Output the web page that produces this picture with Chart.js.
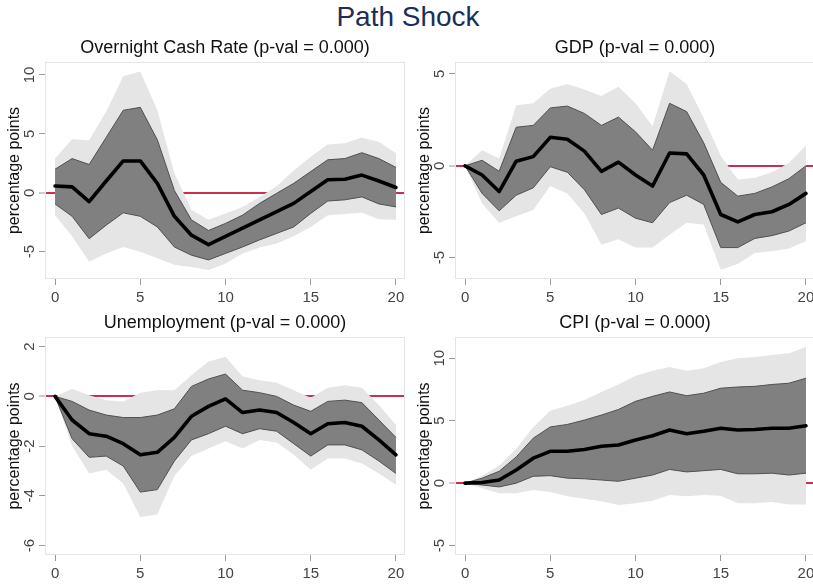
<!DOCTYPE html>
<html>
<head>
<meta charset="utf-8">
<title>Path Shock</title>
<script src="https://cdn.jsdelivr.net/npm/chart.js@4.4.1/dist/chart.umd.min.js"></script>
<style>
  html, body { margin: 0; padding: 0; background: #fff; overflow: hidden; width: 813px; height: 585px; }
  #main-title {
    position: absolute; left: 0; top: 0; width: 816px; text-align: center;
    font: 28px "Liberation Sans", Arial, sans-serif; color: #1c2d5c; line-height: 34px;
  }
  .panel { position: absolute; width: 410px; height: 280px; }
</style>
</head>
<body>
<div id="main-title">Path Shock</div>
<div class="panel" style="left:0px;top:30px"><canvas id="cash"></canvas></div>
<div class="panel" style="left:410px;top:30px"><canvas id="gdp"></canvas></div>
<div class="panel" style="left:0px;top:305px"><canvas id="unemp"></canvas></div>
<div class="panel" style="left:410px;top:305px"><canvas id="cpi"></canvas></div>
<script>
// Horizons (quarters after the shock) and axis ticks
const HORIZONS = [0, 1, 2, 3, 4, 5, 6, 7, 8, 9, 10, 11, 12, 13, 14, 15, 16, 17, 18, 19, 20];
const X_TICKS = [0, 5, 10, 15, 20];

// Overnight Cash Rate: point estimate, inner band, outer band
const cashMid  = [0.57, 0.5, -0.75, 1.0, 2.7, 2.7, 0.8, -2.0, -3.6, -4.4, -3.7, -3.0, -2.3, -1.6, -0.9, 0.1, 1.1, 1.15, 1.5, 1.0, 0.45];
const cashHi68 = [2.0, 2.9, 2.4, 4.7, 7.0, 7.25, 4.5, 0.2, -2.3, -3.2, -2.6, -1.9, -0.9, -0.05, 0.8, 1.8, 2.8, 2.9, 3.4, 2.9, 2.15];
const cashLo68 = [-0.95, -2.0, -3.9, -2.75, -1.7, -2.0, -2.9, -4.6, -5.3, -5.7, -5.15, -4.6, -4.0, -3.45, -2.9, -1.75, -0.7, -0.6, -0.35, -0.95, -1.2];
const cashHi90 = [2.9, 4.55, 4.45, 6.9, 9.9, 10.3, 7.0, 1.65, -1.45, -2.3, -1.75, -1.2, -0.35, 0.55, 1.9, 3.05, 4.1, 4.2, 4.7, 4.3, 3.35];
const cashLo90 = [-1.9, -3.7, -5.85, -5.15, -4.6, -5.0, -5.55, -6.1, -6.3, -6.55, -6.0, -5.15, -4.65, -4.3, -3.7, -2.9, -1.9, -1.8, -1.7, -2.25, -2.3];
const cashTicks = [-5, 0, 5, 10];

// GDP
const gdpMid  = [0, -0.5, -1.4, 0.25, 0.5, 1.55, 1.45, 0.8, -0.3, 0.2, -0.5, -1.1, 0.7, 0.65, -0.5, -2.65, -3.05, -2.65, -2.5, -2.1, -1.5];
const gdpHi68 = [0, 0.3, -0.3, 2.1, 2.2, 3.15, 3.25, 2.85, 2.2, 2.65, 1.85, 0.85, 3.4, 2.95, 1.25, -0.9, -1.65, -1.5, -1.15, -0.7, 0];
const gdpLo68 = [0, -1.5, -2.45, -1.6, -1.2, -0.05, -0.35, -1.3, -2.65, -2.3, -2.85, -3.1, -2.0, -1.6, -2.1, -4.45, -4.45, -3.95, -3.8, -3.55, -3.1];
const gdpHi90 = [0, 0.85, 0.4, 3.3, 3.4, 4.2, 4.45, 4.15, 3.8, 4.3, 3.4, 2.15, 5.15, 4.45, 2.6, 0.55, -0.75, -0.65, -0.35, 0.15, 1.1];
const gdpLo90 = [0, -2.05, -3.1, -2.75, -2.4, -1.1, -1.5, -2.6, -4.3, -4.0, -4.45, -4.45, -3.75, -3.1, -3.2, -5.65, -5.35, -4.75, -4.65, -4.5, -4.1];
const gdpTicks = [-5, 0, 5];

// Unemployment
const unempMid  = [0, -0.95, -1.5, -1.6, -1.9, -2.35, -2.25, -1.65, -0.8, -0.4, -0.1, -0.65, -0.55, -0.65, -1.05, -1.5, -1.1, -1.05, -1.2, -1.75, -2.35];
const unempHi68 = [0, -0.2, -0.55, -0.75, -0.85, -0.85, -0.75, -0.5, 0.4, 0.7, 0.9, 0.25, 0.15, 0, -0.35, -0.6, -0.2, -0.15, -0.25, -0.95, -1.65];
const unempLo68 = [0, -1.7, -2.45, -2.4, -2.8, -3.85, -3.75, -2.6, -1.75, -1.5, -1.2, -1.5, -1.3, -1.4, -1.9, -2.4, -1.95, -1.95, -2.15, -2.6, -3.1];
const unempHi90 = [0, 0.3, 0.05, -0.15, -0.2, 0.15, 0.25, 0.25, 0.85, 1.4, 1.6, 0.8, 0.65, 0.55, 0.25, -0.05, 0.35, 0.45, 0.35, -0.35, -1.15];
const unempLo90 = [0, -2.0, -3.1, -2.95, -3.5, -4.85, -4.75, -3.2, -2.4, -2.1, -1.8, -2.1, -1.75, -1.85, -2.35, -2.95, -2.5, -2.5, -2.7, -3.1, -3.55];
const unempTicks = [-6, -4, -2, 0, 2];

// CPI
const cpiMid  = [0, 0.05, 0.25, 1.05, 2.0, 2.55, 2.55, 2.7, 2.95, 3.05, 3.45, 3.8, 4.25, 3.95, 4.15, 4.4, 4.25, 4.3, 4.4, 4.4, 4.6];
const cpiHi68 = [0, 0.4, 0.95, 2.1, 3.6, 4.5, 4.7, 5.05, 5.45, 5.9, 6.55, 6.95, 7.3, 7.0, 7.2, 7.6, 7.7, 7.75, 7.9, 8.0, 8.4];
const cpiLo68 = [0, -0.15, -0.3, 0, 0.55, 0.6, 0.4, 0.35, 0.25, 0.15, 0.4, 0.65, 1.1, 0.9, 1.0, 1.1, 0.75, 0.75, 0.8, 0.65, 0.8];
const cpiHi90 = [0, 0.6, 1.4, 2.75, 4.5, 5.8, 6.2, 6.65, 7.3, 7.9, 8.6, 9.0, 9.3, 9.0, 9.2, 9.7, 10.0, 10.1, 10.25, 10.4, 10.9];
const cpiLo90 = [0, -0.4, -0.8, -0.8, -0.55, -0.7, -1.05, -1.25, -1.45, -1.75, -1.6, -1.4, -0.95, -1.05, -0.95, -1.0, -1.6, -1.6, -1.5, -1.7, -1.7];
const cpiTicks = [-5, 0, 5, 10];

const FONT = '"Liberation Sans", Arial, Helvetica, sans-serif';
const ZERO_RED = '#c8304f';

// Light frame around each plot region
const framePlugin = {
  id: 'plotFrame',
  beforeDatasetsDraw(chart) {
    const { ctx, chartArea: a } = chart;
    ctx.save();
    ctx.strokeStyle = '#e4e4e4';
    ctx.lineWidth = 1;
    ctx.strokeRect(Math.round(a.left) + 0.5, Math.round(a.top) + 0.5, Math.round(a.width) - 1, Math.round(a.height) - 1);
    ctx.restore();
  }
};

function makePanel(id, name, mid, hi68, lo68, hi90, lo90, yTicks, yMin, yMax, yTickPad, bottomH) {
  const band = (data, extra) => Object.assign({
    data, pointRadius: 0, pointHoverRadius: 0, tension: 0, borderWidth: 0
  }, extra);
  new Chart(document.getElementById(id), {
    type: 'line',
    data: {
      labels: HORIZONS,
      datasets: [
        band(hi90, { fill: '+1', backgroundColor: '#e5e5e5', borderColor: 'rgba(0,0,0,0)', order: 4 }),
        band(lo90, { fill: false, borderColor: 'rgba(0,0,0,0)', order: 5 }),
        band(hi68, { fill: '+1', backgroundColor: '#808080', borderColor: '#505050', borderWidth: 1, order: 3 }),
        band(lo68, { fill: false, borderColor: '#505050', borderWidth: 1, order: 2 }),
        band(mid, { fill: false, borderColor: '#000', borderWidth: 3.6, borderJoinStyle: 'round', borderCapStyle: 'round', order: 1 })
      ]
    },
    options: {
      responsive: true,
      maintainAspectRatio: false,
      animation: false,
      events: [],
      layout: { padding: { left: 0, right: 5, top: 0, bottom: 0 } },
      plugins: {
        legend: { display: false },
        tooltip: { enabled: false },
        title: {
          display: true, text: name, fullSize: false, color: '#111',
          font: { family: FONT, size: 18, weight: 'normal', lineHeight: 1.2 },
          padding: { top: 7.4, bottom: 3.0 }
        }
      },
      scales: {
        x: {
          type: 'linear', min: -0.59, max: 20.53,
          afterBuildTicks: s => { s.ticks = X_TICKS.map(v => ({ value: v })); },
          afterFit: s => { s.height = bottomH; },
          border: { display: false },
          grid: { drawOnChartArea: false, tickLength: 6, tickColor: '#9a9a9a', tickWidth: 1 },
          ticks: { padding: 3.4, color: '#444', autoSkip: false, maxRotation: 0, minRotation: 0,
                   font: { family: FONT, size: 15, lineHeight: 1.2 } }
        },
        y: {
          type: 'linear', min: yMin, max: yMax,
          afterBuildTicks: s => { s.ticks = yTicks.map(v => ({ value: v })); },
          afterFit: s => { s.width = 45; },
          border: { display: false },
          grid: {
            color: c => (c.tick && c.tick.value === 0) ? ZERO_RED : 'rgba(0,0,0,0)',
            lineWidth: c => (c.tick && c.tick.value === 0) ? 2 : 1,
            tickLength: 6, tickColor: '#9a9a9a', tickWidth: 1
          },
          ticks: { minRotation: 90, maxRotation: 90, crossAlign: 'center', padding: yTickPad,
                   color: '#444', font: { family: FONT, size: 15, lineHeight: 1.2 } },
          title: { display: true, text: 'percentage points', color: '#111',
                   font: { family: FONT, size: 16, lineHeight: 1.2 }, padding: { top: 5.0, bottom: 0 } }
        }
      }
    },
    plugins: [framePlugin]
  });
}

makePanel('cash', 'Overnight Cash Rate (p-val = 0.000)', cashMid, cashHi68, cashLo68, cashHi90, cashLo90, cashTicks, -7.32, 11.1, 1.0, 31);
makePanel('gdp', 'GDP (p-val = 0.000)', gdpMid, gdpHi68, gdpLo68, gdpHi90, gdpLo90, gdpTicks, -6.16, 5.65, 2.7, 31);
makePanel('unemp', 'Unemployment (p-val = 0.000)', unempMid, unempHi68, unempLo68, unempHi90, unempLo90, unempTicks, -6.38, 2.39, 2.7, 30);
makePanel('cpi', 'CPI (p-val = 0.000)', cpiMid, cpiHi68, cpiLo68, cpiHi90, cpiLo90, cpiTicks, -5.75, 11.7, 1.0, 30);
</script>
</body>
</html>
